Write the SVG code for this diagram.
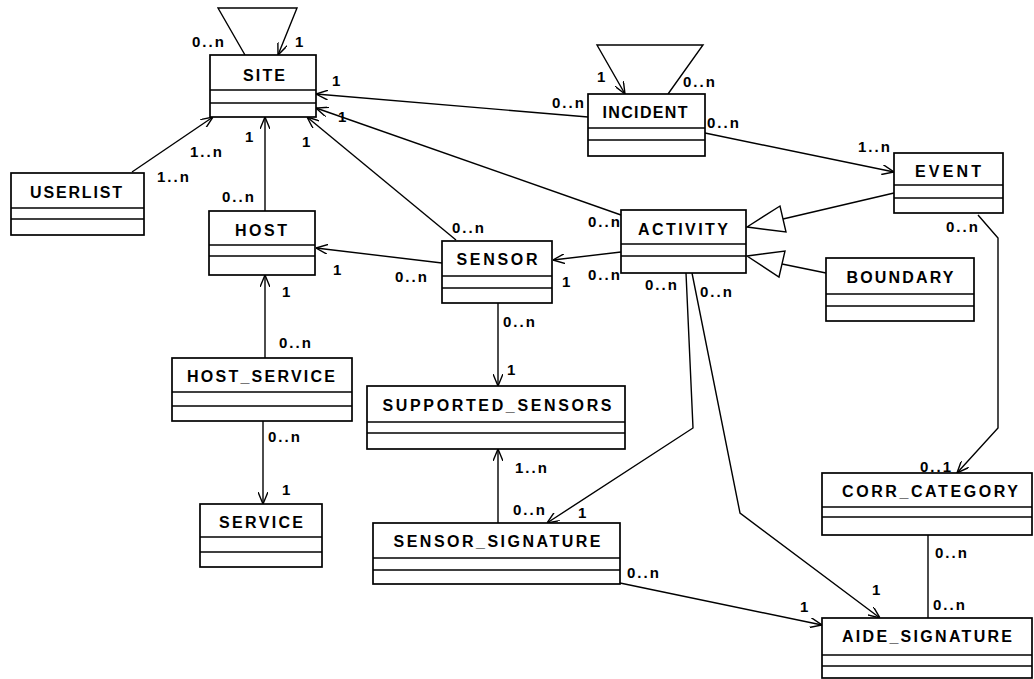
<svg xmlns="http://www.w3.org/2000/svg" width="1034" height="679" viewBox="0 0 1034 679">
  <style>
    .box { fill: #ffffff; stroke: #000000; stroke-width: 1.7; }
    .sep { stroke: #000000; stroke-width: 1.5; }
    .name { font-family: "Liberation Sans", Arial, sans-serif; font-size: 16px; font-weight: bold; fill: #000000; text-anchor: middle; }
    .lbl { font-family: "Liberation Sans", Arial, sans-serif; font-size: 15px; font-weight: bold; fill: #000000; letter-spacing: 2px; }
    .edge { fill: none; stroke: #000000; stroke-width: 1.4; }
    .nav { marker-end: url(#open); }
    .gen { fill: #ffffff; stroke: #000000; stroke-width: 1.4; }
  </style>
  <defs>
    <marker id="open" viewBox="0 0 12 10" refX="12" refY="5" markerWidth="12" markerHeight="10" markerUnits="userSpaceOnUse" orient="auto">
      <path d="M0,0 L12,5 L0,10" fill="none" stroke="#000000" stroke-width="1.4"/>
    </marker>
  </defs>
  <rect width="1034" height="679" fill="#ffffff"/>

  <!-- associations and generalizations -->
  <g id="connectors">
    <!-- SITE self association -->
    <polyline class="edge nav" points="245,55 218,8 297,8 278,55"/>
    <!-- INCIDENT self association -->
    <polyline class="edge nav" points="668,94 703,45 597,45 625,94"/>
    <!-- INCIDENT -> SITE -->
    <line class="edge nav" x1="588" y1="117" x2="316" y2="94"/>
    <!-- ACTIVITY -> SITE -->
    <line class="edge nav" x1="621" y1="215" x2="316" y2="108"/>
    <!-- SENSOR -> SITE -->
    <line class="edge nav" x1="456" y1="240" x2="307" y2="117"/>
    <!-- USERLIST -> SITE -->
    <line class="edge nav" x1="132" y1="172" x2="213" y2="117"/>
    <!-- HOST -> SITE -->
    <line class="edge nav" x1="265" y1="211" x2="265" y2="117"/>
    <!-- SENSOR -> HOST -->
    <line class="edge nav" x1="442" y1="263" x2="316" y2="248"/>
    <!-- ACTIVITY -> SENSOR -->
    <line class="edge nav" x1="621" y1="252" x2="553" y2="260"/>
    <!-- INCIDENT -> EVENT -->
    <line class="edge nav" x1="705" y1="133" x2="894" y2="172"/>
    <!-- EVENT is-a ACTIVITY -->
    <line class="edge" x1="894" y1="193" x2="783" y2="219"/>
    <polygon class="gen" points="747,227 780,206 786,232"/>
    <!-- BOUNDARY is-a ACTIVITY -->
    <line class="edge" x1="826" y1="273" x2="782" y2="264"/>
    <polygon class="gen" points="747,256 785,251 779,277"/>
    <!-- EVENT -> CORR_CATEGORY -->
    <polyline class="edge nav" points="978,215 998,238 998,428 957,473"/>
    <!-- SENSOR -> SUPPORTED_SENSORS -->
    <line class="edge nav" x1="498" y1="303" x2="498" y2="386"/>
    <!-- SENSOR_SIGNATURE -> SUPPORTED_SENSORS -->
    <line class="edge nav" x1="498" y1="523" x2="498" y2="449"/>
    <!-- HOST_SERVICE -> HOST -->
    <line class="edge nav" x1="265" y1="358" x2="265" y2="275"/>
    <!-- HOST_SERVICE -> SERVICE -->
    <line class="edge nav" x1="263" y1="421" x2="263" y2="504"/>
    <!-- ACTIVITY -> SENSOR_SIGNATURE -->
    <polyline class="edge nav" points="686,273 693,428 547,523"/>
    <!-- ACTIVITY -> AIDE_SIGNATURE -->
    <polyline class="edge nav" points="692,273 740,513 880,618"/>
    <!-- SENSOR_SIGNATURE -> AIDE_SIGNATURE -->
    <line class="edge nav" x1="620" y1="583" x2="822" y2="625"/>
    <!-- CORR_CATEGORY - AIDE_SIGNATURE -->
    <line class="edge" x1="928" y1="535" x2="928" y2="618"/>
  </g>

  <!-- multiplicities -->
  <g id="multiplicities">
    <text class="lbl" x="192" y="47">0..n</text>
    <text class="lbl" x="295" y="47">1</text>
    <text class="lbl" x="332" y="86">1</text>
    <text class="lbl" x="338" y="122">1</text>
    <text class="lbl" x="552" y="108">0..n</text>
    <text class="lbl" x="597" y="82">1</text>
    <text class="lbl" x="683" y="87">0..n</text>
    <text class="lbl" x="707" y="128">0..n</text>
    <text class="lbl" x="858" y="152">1..n</text>
    <text class="lbl" x="190" y="157">1..n</text>
    <text class="lbl" x="157" y="182">1..n</text>
    <text class="lbl" x="245" y="142">1</text>
    <text class="lbl" x="302" y="147">1</text>
    <text class="lbl" x="222" y="202">0..n</text>
    <text class="lbl" x="452" y="233">0..n</text>
    <text class="lbl" x="333" y="275">1</text>
    <text class="lbl" x="395" y="282">0..n</text>
    <text class="lbl" x="562" y="287">1</text>
    <text class="lbl" x="588" y="227">0..n</text>
    <text class="lbl" x="588" y="280">0..n</text>
    <text class="lbl" x="645" y="290">0..n</text>
    <text class="lbl" x="700" y="297">0..n</text>
    <text class="lbl" x="946" y="232">0..n</text>
    <text class="lbl" x="503" y="327">0..n</text>
    <text class="lbl" x="507" y="375">1</text>
    <text class="lbl" x="282" y="297">1</text>
    <text class="lbl" x="279" y="348">0..n</text>
    <text class="lbl" x="268" y="442">0..n</text>
    <text class="lbl" x="282" y="495">1</text>
    <text class="lbl" x="515" y="473">1..n</text>
    <text class="lbl" x="513" y="515">0..n</text>
    <text class="lbl" x="578" y="518">1</text>
    <text class="lbl" x="627" y="578">0..n</text>
    <text class="lbl" x="920" y="472">0..1</text>
    <text class="lbl" x="935" y="558">0..n</text>
    <text class="lbl" x="933" y="610">0..n</text>
    <text class="lbl" x="872" y="595">1</text>
    <text class="lbl" x="800" y="612">1</text>
  </g>

  <!-- classes -->
  <g id="SITE">
    <rect class="box" x="210" y="55" width="106" height="62"/>
    <line class="sep" x1="210" y1="90" x2="316" y2="90"/>
    <line class="sep" x1="210" y1="103" x2="316" y2="103"/>
    <text class="name" x="264" y="81" textLength="42" lengthAdjust="spacing">SITE</text>
  </g>
  <g id="INCIDENT">
    <rect class="box" x="588" y="94" width="117" height="62"/>
    <line class="sep" x1="588" y1="128" x2="705" y2="128"/>
    <line class="sep" x1="588" y1="140" x2="705" y2="140"/>
    <text class="name" x="645" y="118" textLength="85" lengthAdjust="spacing">INCIDENT</text>
  </g>
  <g id="USERLIST">
    <rect class="box" x="11" y="173" width="133" height="62"/>
    <line class="sep" x1="11" y1="208" x2="144" y2="208"/>
    <line class="sep" x1="11" y1="219" x2="144" y2="219"/>
    <text class="name" x="76" y="198" textLength="92" lengthAdjust="spacing">USERLIST</text>
  </g>
  <g id="HOST">
    <rect class="box" x="209" y="211" width="106" height="64"/>
    <line class="sep" x1="209" y1="245" x2="315" y2="245"/>
    <line class="sep" x1="209" y1="256" x2="315" y2="256"/>
    <text class="name" x="261" y="236" textLength="52" lengthAdjust="spacing">HOST</text>
  </g>
  <g id="SENSOR">
    <rect class="box" x="442" y="241" width="110" height="62"/>
    <line class="sep" x1="442" y1="276" x2="552" y2="276"/>
    <line class="sep" x1="442" y1="288" x2="552" y2="288"/>
    <text class="name" x="497" y="265" textLength="81" lengthAdjust="spacing">SENSOR</text>
  </g>
  <g id="ACTIVITY">
    <rect class="box" x="621" y="210" width="125" height="63"/>
    <line class="sep" x1="621" y1="244" x2="746" y2="244"/>
    <line class="sep" x1="621" y1="256" x2="746" y2="256"/>
    <text class="name" x="683" y="235" textLength="90" lengthAdjust="spacing">ACTIVITY</text>
  </g>
  <g id="EVENT">
    <rect class="box" x="894" y="153" width="109" height="60"/>
    <line class="sep" x1="894" y1="185" x2="1003" y2="185"/>
    <line class="sep" x1="894" y1="198" x2="1003" y2="198"/>
    <text class="name" x="948" y="177" textLength="66" lengthAdjust="spacing">EVENT</text>
  </g>
  <g id="BOUNDARY">
    <rect class="box" x="826" y="258" width="148" height="63"/>
    <line class="sep" x1="826" y1="294" x2="974" y2="294"/>
    <line class="sep" x1="826" y1="306" x2="974" y2="306"/>
    <text class="name" x="900" y="283" textLength="107" lengthAdjust="spacing">BOUNDARY</text>
  </g>
  <g id="HOST_SERVICE">
    <rect class="box" x="172" y="358" width="180" height="63"/>
    <line class="sep" x1="172" y1="392" x2="352" y2="392"/>
    <line class="sep" x1="172" y1="406" x2="352" y2="406"/>
    <text class="name" x="261" y="382" textLength="148" lengthAdjust="spacing">HOST_SERVICE</text>
  </g>
  <g id="SUPPORTED_SENSORS">
    <rect class="box" x="367" y="386" width="258" height="63"/>
    <line class="sep" x1="367" y1="422" x2="625" y2="422"/>
    <line class="sep" x1="367" y1="433" x2="625" y2="433"/>
    <text class="name" x="497" y="411" textLength="229" lengthAdjust="spacing">SUPPORTED_SENSORS</text>
  </g>
  <g id="SERVICE">
    <rect class="box" x="200" y="504" width="122" height="63"/>
    <line class="sep" x1="200" y1="537" x2="322" y2="537"/>
    <line class="sep" x1="200" y1="552" x2="322" y2="552"/>
    <text class="name" x="261" y="528" textLength="84" lengthAdjust="spacing">SERVICE</text>
  </g>
  <g id="SENSOR_SIGNATURE">
    <rect class="box" x="373" y="523" width="247" height="61"/>
    <line class="sep" x1="373" y1="558" x2="620" y2="558"/>
    <line class="sep" x1="373" y1="570" x2="620" y2="570"/>
    <text class="name" x="497" y="547" textLength="207" lengthAdjust="spacing">SENSOR_SIGNATURE</text>
  </g>
  <g id="CORR_CATEGORY">
    <rect class="box" x="822" y="473" width="210" height="62"/>
    <line class="sep" x1="822" y1="507" x2="1032" y2="507"/>
    <line class="sep" x1="822" y1="517" x2="1032" y2="517"/>
    <text class="name" x="930" y="497" textLength="176" lengthAdjust="spacing">CORR_CATEGORY</text>
  </g>
  <g id="AIDE_SIGNATURE">
    <rect class="box" x="822" y="618" width="210" height="60"/>
    <line class="sep" x1="822" y1="655" x2="1032" y2="655"/>
    <line class="sep" x1="822" y1="666" x2="1032" y2="666"/>
    <text class="name" x="927" y="642" textLength="170" lengthAdjust="spacing">AIDE_SIGNATURE</text>
  </g>
</svg>
